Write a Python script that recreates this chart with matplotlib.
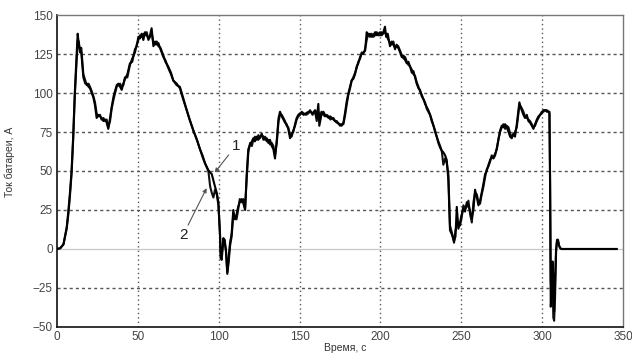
import matplotlib
matplotlib.use("Agg")
import matplotlib.pyplot as plt

# Time, s
t = [0, 2, 4, 6, 7, 8, 9, 10, 11, 12, 12.8, 13.5, 14.2, 15, 16.3, 17.5, 18.4, 19.5, 20.4, 21.5,
     22.5, 23.5, 24.5, 25.5, 26.6, 27.5, 28.7, 29.7, 30.7, 31.7, 32.8, 33.8, 35, 36.9, 38, 39, 40,
     41, 42, 43.5, 45.1, 46.5, 48.2, 49.3, 50.3, 51.3, 52.4, 53.4, 54.4, 55.5, 56.5, 57.5, 58.5,
     59.6, 60.6, 61.7, 62.7, 64, 65.8, 67, 68.8, 70.5, 71.9, 74, 76, 78, 80.2, 82, 84.3, 86.5,
     88.4, 90, 91.5, 93.6, 94.7, 95.7, 96.7, 97.7, 98.8, 99.8, 100.8, 101.2, 101.8, 102.9, 103.7,
     104.5, 105.3, 106.2, 107, 108, 109, 110, 111, 112, 113, 114.2, 115.3, 116.3, 117.3, 118.3,
     119.4, 120.5, 121.4, 122.4, 123.5, 124.5, 125.5, 126.6, 127.6, 128.7, 129.7, 130.7, 131.7,
     132.8, 133.8, 134.8, 135.9, 137, 137.9, 139, 140, 141, 142, 143, 144.1, 145.1, 146.1, 147.2,
     148.2, 149.2, 150.3, 151.3, 152.5, 154, 155.5, 156.5, 158, 159.6, 160.6, 161.6, 162.2, 163.5,
     164.7, 165.7, 166.8, 168, 169, 170.9, 172, 173, 175, 176, 177.1, 178.2, 179.2, 180.2, 181.2,
     182.2, 183.2, 184.3, 185.3, 186.3, 187.4, 188.4, 189.4, 190.5, 191.5, 192.5, 193.5, 194.6,
     195.6, 196.7, 197.7, 198.8, 199.8, 200.8, 201.8, 202.8, 203.5, 204.5, 205.9, 207, 208, 209,
     210, 211, 212.2, 213.2, 214.3, 215.3, 216.3, 217.3, 218.3, 219.4, 220.4, 221.4, 222.4, 223.5,
     224.5, 225.5, 226.6, 227.6, 228.6, 229.6, 230.7, 231.7, 232.8, 233.8, 234.8, 235.8, 236.9,
     237.9, 238.9, 240, 241, 242, 243, 244.3, 245.5, 246.4, 247.2, 248.2, 249.2, 250.2, 251.3,
     252.3, 253.4, 254.4, 255.5, 256.5, 257.5, 258.5, 259.6, 260.6, 261.6, 262.6, 263.7, 264.7,
     265.7, 266.8, 267.8, 268.8, 269.9, 270.9, 272, 273, 274, 275, 276, 277.1, 278.1, 279.2,
     280.2, 281.2, 282.2, 283.2, 284.3, 285.9, 287, 288.4, 289.4, 290.5, 291.5, 292.5, 293.6,
     294.6, 295.6, 296.7, 297.7, 298.7, 299.8, 300.8, 301.8, 302.9, 303.9, 304.5, 304.9, 305.3,
     305.9, 306.4, 306.9, 307.4, 308, 308.6, 309.2, 309.8, 310.5, 311.2, 312, 315, 320, 330, 340,
     346]

# Battery current, A: curve 1
i1 = [0, 0.5, 3, 14, 24, 36, 50, 72, 100, 122, 138, 131, 128, 126, 110, 106, 106, 104, 103, 100,
      97, 92, 84, 86, 85, 84, 82, 83, 81, 77, 84, 91, 98, 105, 106, 104, 102,
      106, 109, 112, 119, 120, 128, 130, 136, 135, 138, 134, 139, 137, 135, 137, 141.5,
      130, 133, 131, 132, 128, 123, 121, 116, 112, 108, 106, 103, 96, 89, 83, 76, 70,
      64, 59, 55, 50.5, 49, 48, 44, 40, 36, 30, 8, -6, -4, 7, 4,
      -1, -15, -5, 4, 10, 25, 19, 22, 27, 30, 32, 29, 25, 48, 64,
      67, 69, 71, 69, 72, 70, 72, 73, 72, 70, 71, 68, 70,
      66, 64, 58, 70, 84, 88, 85, 83, 81, 80, 77, 71, 74, 75, 80,
      84, 86, 87, 87, 86, 87, 88, 88, 87, 89, 84, 93, 79, 86,
      88, 86, 85, 84, 85, 83, 82, 81, 80, 79, 81, 88, 95, 100, 104,
      108, 109, 112, 117, 119, 123, 125, 126, 127, 139, 137, 138, 136,
      137, 139, 137, 138, 139, 137, 139, 142.5, 136, 138, 130, 133, 131, 129,
      130, 129, 126, 123, 124, 121, 119, 120, 117, 113, 114, 110, 106, 103,
      102, 98, 96, 93, 91, 89, 86, 82, 79, 75, 72, 68, 65,
      63, 62, 60, 57, 44, 12, 9, 5, 8, 27, 13, 17, 22, 26,
      24, 30, 28, 24, 20, 25, 38, 33, 28, 31, 36, 42, 48,
      50, 54, 57, 59, 58, 60, 65, 70, 76, 79, 78, 80, 78, 75,
      72, 71, 74, 72, 80, 94, 90, 86, 84, 86, 82, 81, 79,
      77, 80, 83, 85, 86, 87, 89, 89, 88, 88, 87, 40, -37,
      -30, -8, -18, -40, -20, 0, 6, 5, 2, 0.5, 0, 0, 0, 0, 0,
      0]

# Battery current, A: curve 2
i2 = [0, 0.5, 3, 13, 22, 34, 48, 70, 98, 118, 134, 133, 126, 129, 112, 108, 105, 106, 104, 101,
      98, 94, 87, 85, 86, 83, 84, 82, 83, 78, 82, 90, 96, 104, 105, 106, 104,
      105, 110, 110, 118, 122, 126, 131, 134, 137, 136, 138, 137, 139, 134, 136, 139,
      132, 131, 133, 130, 129, 124, 120, 117, 113, 108, 105, 104, 97, 89, 83, 76, 70,
      64, 60, 55, 50, 40, 36, 33, 38, 35, 28, 10, -3, -7, 5, 6,
      -2, -16, -8, 2, 8, 22, 20, 19, 25, 32, 30, 32, 26, 45, 62,
      68, 66, 70, 72, 70, 73, 71, 74, 70, 72, 69, 70, 67,
      68, 66, 60, 68, 82, 86, 86, 84, 82, 79, 78, 73, 72, 76, 79,
      83, 85, 86, 88, 87, 86, 87, 89, 86, 88, 82, 88, 84, 88,
      86, 85, 86, 85, 83, 84, 82, 82, 79, 80, 80, 86, 93, 99, 103,
      108, 110, 113, 116, 120, 122, 126, 125, 128, 134, 138, 136, 138,
      136, 137, 139, 137, 137, 139, 138, 139, 138, 135, 132, 131, 133, 128,
      131, 130, 127, 124, 122, 123, 120, 118, 117, 115, 112, 111, 107, 104,
      101, 99, 96, 94, 90, 88, 86, 83, 79, 76, 72, 69, 66,
      63, 54, 58, 55, 48, 15, 10, 4, 12, 15, 17, 15, 20, 28,
      26, 27, 31, 22, 17, 30, 36, 35, 30, 29, 35, 40, 46,
      51, 53, 56, 60, 59, 61, 64, 71, 75, 78, 80, 77, 79, 78,
      74, 72, 73, 75, 78, 92, 91, 88, 85, 84, 83, 82, 80,
      78, 79, 82, 84, 86, 88, 88, 89, 89, 88, 88, 45, -20,
      -32, -20, -44, -46, -30, -2, 5, 6, 2, 0.5, 0, 0, 0, 0, 0,
      0]

x_ticks = [0, 50, 100, 150, 200, 250, 300, 350]
y_ticks = [-50, -25, 0, 25, 50, 75, 100, 125, 150]
x_label = "Время, с"
y_label = "Ток батареи, А"

plt.rcParams["font.family"] = ["Liberation Sans", "DejaVu Sans"]

fig = plt.figure(figsize=(6.32, 3.54), dpi=100)
ax = fig.add_axes([0.0902, 0.0763, 0.8956, 0.8813])

# grid: dotted verticals, dashed horizontals, plain zero line
for xv in x_ticks[1:-1]:
    ax.axvline(xv, color="#555555", lw=1.0, ls=(0, (1, 2.2)), zorder=1)
for yv in y_ticks[1:-1]:
    if yv == 0:
        ax.axhline(yv, color="#c8c8c8", lw=0.9, zorder=1)
    else:
        ax.axhline(yv, color="#555555", lw=1.0, ls=(0, (2.2, 2.2)), zorder=1)

ax.plot(t, i2, color="#111111", lw=1.5, zorder=3)
ax.plot(t, i1, color="#000000", lw=1.5, zorder=4)

ax.set_xlim(0, 350)
ax.set_ylim(-50, 150)
ax.set_xticks(x_ticks)
ax.set_yticks(y_ticks)
ax.tick_params(length=0, labelsize=8.5, colors="#444444", pad=3)

for side in ("left", "bottom"):
    ax.spines[side].set_color("#111111")
    ax.spines[side].set_linewidth(1.2)
for side in ("top", "right"):
    ax.spines[side].set_color("#777777")
    ax.spines[side].set_linewidth(1.0)

ax.set_xlabel(x_label, fontsize=7.5, color="#333333")
ax.xaxis.set_label_coords(0.51, -0.052)
ax.set_ylabel(y_label, fontsize=7.5, color="#333333")
ax.yaxis.set_label_coords(-0.075, 0.53)

arrow = dict(arrowstyle="-|>", color="#555555", lw=0.8, mutation_scale=6,
             shrinkA=0, shrinkB=0)
ax.annotate("1", xy=(97.5, 49), xytext=(110.5, 66), fontsize=11, color="#222222",
            ha="center", va="center", arrowprops=arrow)
ax.annotate("2", xy=(92.5, 39), xytext=(78, 9), fontsize=11, color="#222222",
            ha="center", va="center", arrowprops=arrow)

fig.savefig("out.png", dpi=100)
